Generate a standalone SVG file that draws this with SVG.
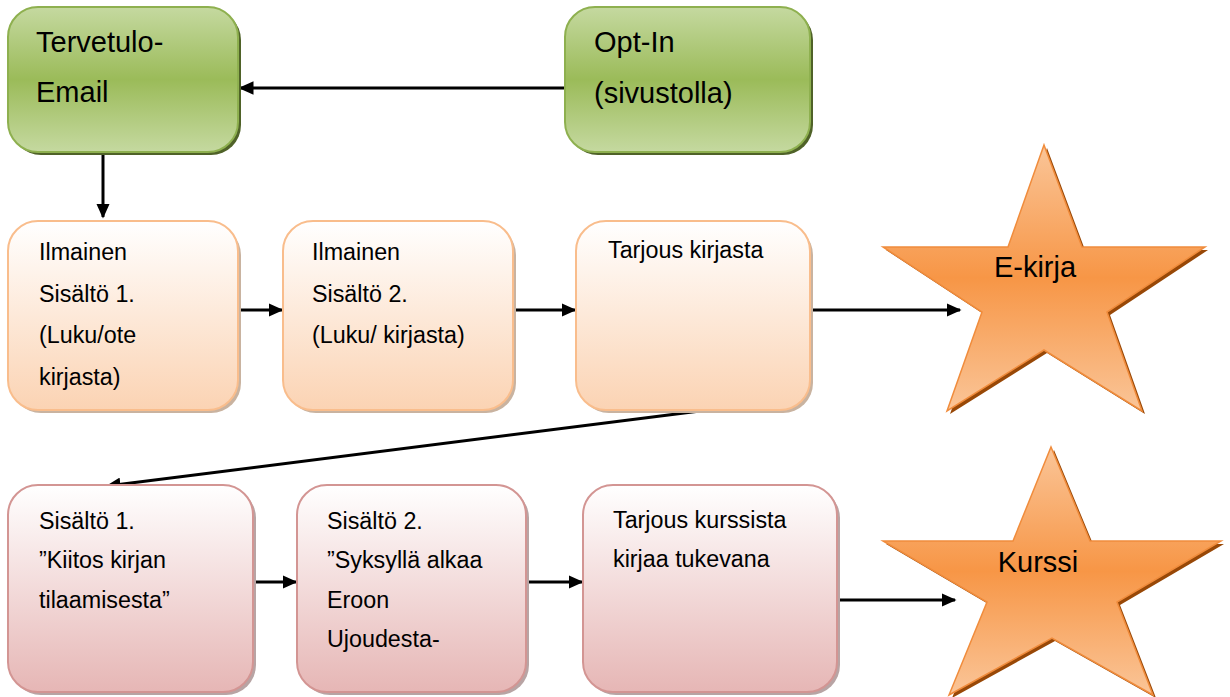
<svg xmlns="http://www.w3.org/2000/svg" width="1230" height="697" viewBox="0 0 1230 697">
<defs>
<linearGradient id="gGreen" x1="0" y1="0" x2="0" y2="1">
<stop offset="0" stop-color="#c5d9a0"/><stop offset="0.5" stop-color="#9bbb59"/><stop offset="1" stop-color="#c5d9a0"/>
</linearGradient>
<linearGradient id="gOrange" x1="0" y1="0" x2="0" y2="1">
<stop offset="0" stop-color="#ffffff"/><stop offset="1" stop-color="#fbd3b3"/>
</linearGradient>
<linearGradient id="gPink" x1="0" y1="0" x2="0" y2="1">
<stop offset="0" stop-color="#ffffff"/><stop offset="1" stop-color="#e6b6b5"/>
</linearGradient>
<linearGradient id="gStar" x1="0" y1="0" x2="0" y2="1">
<stop offset="0" stop-color="#fac598"/><stop offset="0.5" stop-color="#f79646"/><stop offset="1" stop-color="#fac598"/>
</linearGradient>
<marker id="arr" viewBox="0 0 10 10" refX="9" refY="5" markerWidth="5" markerHeight="4.5" markerUnits="strokeWidth" orient="auto" preserveAspectRatio="none">
<path d="M0,0 L10,5 L0,10 z" fill="#000"/>
</marker>
<style>
text{font-family:"Liberation Sans",Arial,sans-serif;fill:#000;}
.big{font-size:29px;}
.sm{font-size:23.3px;}
.green{fill:url(#gGreen);stroke:#8eb04f;stroke-width:2;}
.greenS{fill:#4f6228;}
.orange{fill:url(#gOrange);stroke:#f9bd8c;stroke-width:2;}
.orangeS{fill:#c9b3a0;}
.pink{fill:url(#gPink);stroke:#d39593;stroke-width:2;}
.pinkS{fill:#b8a4a4;}
.star{fill:url(#gStar);stroke:#f08c3c;stroke-width:1.5;}
.starS{fill:#984807;}
.conn{stroke:#000;stroke-width:3;fill:none;marker-end:url(#arr);}
</style>
</defs>

<g id="connectors">
<line class="conn" x1="566" y1="88" x2="240" y2="88"/>
<line class="conn" x1="103" y1="152" x2="103" y2="217"/>
<line class="conn" x1="238" y1="310" x2="282" y2="310"/>
<line class="conn" x1="514" y1="310" x2="575" y2="310"/>
<line class="conn" x1="811" y1="310" x2="960" y2="310"/>
<line class="conn" x1="708" y1="410" x2="107" y2="486"/>
<line class="conn" x1="254" y1="582" x2="296" y2="582"/>
<line class="conn" x1="526" y1="582" x2="582" y2="582"/>
<line class="conn" x1="837" y1="600" x2="955" y2="600"/>
</g>

<g id="tervetulo">
<rect class="greenS" x="11" y="10" width="230" height="145" rx="30"/>
<rect class="green" x="8" y="7" width="230" height="145" rx="30"/>
<text class="big" x="36" y="52">Tervetulo-</text>
<text class="big" x="36" y="102">Email</text>
</g>

<g id="optin">
<rect class="greenS" x="568" y="10" width="245" height="145" rx="30"/>
<rect class="green" x="565" y="7" width="245" height="145" rx="30"/>
<text class="big" x="594" y="52">Opt-In</text>
<text class="big" x="594" y="103">(sivustolla)</text>
</g>

<g id="ilmainen1">
<rect class="orangeS" x="11" y="225" width="230" height="188" rx="30"/>
<rect class="orange" x="8" y="221" width="230" height="189" rx="30"/>
<text class="sm" x="39" y="260">Ilmainen</text>
<text class="sm" x="39" y="302">Sisältö 1.</text>
<text class="sm" x="39" y="343">(Luku/ote</text>
<text class="sm" x="39" y="385">kirjasta)</text>
</g>

<g id="ilmainen2">
<rect class="orangeS" x="286" y="225" width="230" height="188" rx="30"/>
<rect class="orange" x="283" y="221" width="230" height="189" rx="30"/>
<text class="sm" x="312" y="260">Ilmainen</text>
<text class="sm" x="312" y="302">Sisältö 2.</text>
<text class="sm" x="312" y="343">(Luku/ kirjasta)</text>
</g>

<g id="tarjous1">
<rect class="orangeS" x="579" y="225" width="234" height="188" rx="30"/>
<rect class="orange" x="576" y="221" width="234" height="189" rx="30"/>
<text class="sm" x="608" y="258">Tarjous kirjasta</text>
</g>

<g id="ekirja">
<polygon class="starS" points="1047,148 1085,250 1208,250 1110,315 1145,414 1047,353 950,414 985,315 886,250 1011,250"/>
<polygon class="star" points="1044,145 1082,247 1205,247 1107,312 1142,411 1044,350 947,411 982,312 883,247 1008,247"/>
<text class="big" x="1035" y="277" text-anchor="middle">E-kirja</text>
</g>

<g id="sisalto1">
<rect class="pinkS" x="11" y="488" width="245" height="207" rx="30"/>
<rect class="pink" x="8" y="485" width="245" height="207" rx="30"/>
<text class="sm" x="39" y="529">Sisältö 1.</text>
<text class="sm" x="39" y="568">”Kiitos kirjan</text>
<text class="sm" x="39" y="608">tilaamisesta”</text>
</g>

<g id="sisalto2">
<rect class="pinkS" x="300" y="488" width="229" height="207" rx="30"/>
<rect class="pink" x="297" y="485" width="229" height="207" rx="30"/>
<text class="sm" x="327" y="529">Sisältö 2.</text>
<text class="sm" x="327" y="568">”Syksyllä alkaa</text>
<text class="sm" x="327" y="608">Eroon</text>
<text class="sm" x="327" y="647">Ujoudesta-</text>
</g>

<g id="tarjous2">
<rect class="pinkS" x="586" y="488" width="254" height="207" rx="30"/>
<rect class="pink" x="583" y="485" width="254" height="207" rx="30"/>
<text class="sm" x="613" y="528">Tarjous kurssista</text>
<text class="sm" x="613" y="567">kirjaa tukevana</text>
</g>

<g id="kurssi">
<polygon class="starS" points="1054,450 1093,544 1224,544 1120,605 1156,698 1055,641 952,698 990,605 886,544 1016,544"/>
<polygon class="star" points="1051,447 1090,541 1221,541 1117,602 1153,695 1052,638 949,695 987,602 883,541 1013,541"/>
<text class="big" x="1038" y="572" text-anchor="middle">Kurssi</text>
</g>
</svg>
